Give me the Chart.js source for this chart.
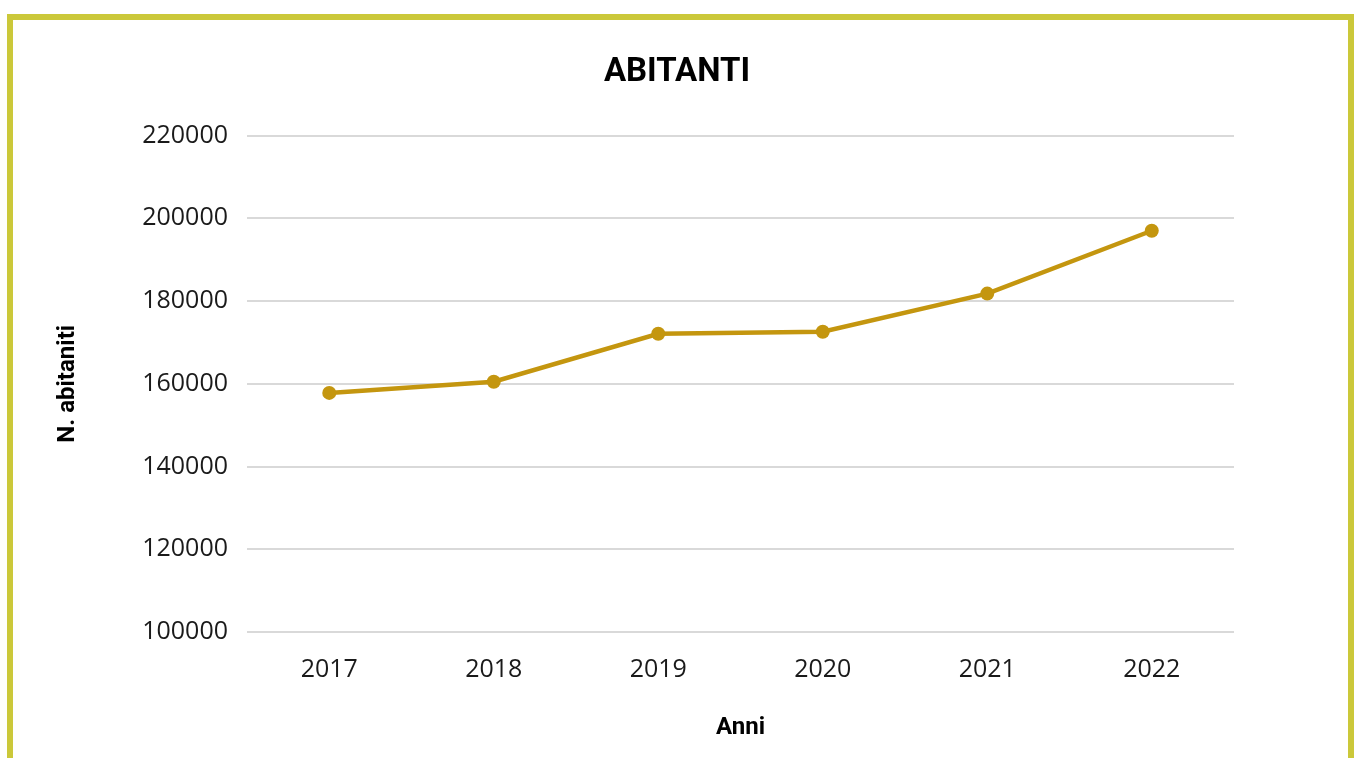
<!DOCTYPE html>
<html>
<head>
<meta charset="utf-8">
<script src="https://cdn.jsdelivr.net/npm/chart.js@4"></script>
<style>
  html, body { margin: 0; padding: 0; background: #ffffff; overflow: hidden; }
  #wrap { position: relative; width: 1354px; height: 758px; }
  #frame { position: absolute; left: 7px; top: 14px; width: 1347px; height: 800px;
           box-sizing: border-box; border: 6px solid #cbc83a; pointer-events: none; }
  canvas { position: absolute; left: 0; top: 0; }
</style>
</head>
<body>
<div id="wrap">
  <canvas id="c" width="1354" height="758"></canvas>
  <div id="frame"></div>
</div>
<script>
const chartTitle = "ABITANTI";
const xTitle = "Anni";
const yTitle = "N. abitaniti";
const years = ["2017", "2018", "2019", "2020", "2021", "2022"];
const inhabitants = [157800, 160500, 172100, 172600, 181800, 197000];
const yMin = 100000, yMax = 220000, yStep = 20000;

const lineColor = "#c4960f";

new Chart(document.getElementById("c"), {
  type: "line",
  data: {
    labels: years,
    datasets: [{
      label: chartTitle,
      data: inhabitants,
      borderColor: lineColor,
      backgroundColor: lineColor,
      borderWidth: 4.5,
      pointRadius: 7,
      pointHoverRadius: 7,
      pointBorderWidth: 0,
      tension: 0,
      fill: false
    }]
  },
  options: {
    responsive: false,
    animation: false,
    devicePixelRatio: 1,
    layout: { padding: 0 },
    plugins: {
      legend: { display: false },
      tooltip: { enabled: false },
      title: {
        display: true,
        text: chartTitle,
        color: "#000000",
        font: { family: "Roboto", size: 33, weight: "bold", lineHeight: 1.2 },
        padding: { top: 53, bottom: 43 }
      }
    },
    scales: {
      x: {
        offset: true,
        grid: { display: false, drawTicks: false },
        border: { display: false },
        ticks: { color: "#1a1a1a", font: { family: "Open Sans", size: 25 }, padding: 23 },
        title: {
          display: true, text: xTitle, color: "#000000",
          font: { family: "Roboto", size: 24, weight: "bold", lineHeight: 1.2 },
          padding: { top: 0, bottom: 16 }
        },
        afterFit: (s) => { s.height = 126; }
      },
      y: {
        position: "left",
        min: yMin, max: yMax,
        grid: { color: "#d9d9d9", lineWidth: 2, drawTicks: false },
        border: { display: false },
        ticks: { stepSize: yStep, color: "#1a1a1a", font: { family: "Open Sans", size: 25 }, padding: 19,
                 callback: (v) => String(v) },
        title: {
          display: true, text: yTitle, color: "#000000",
          font: { family: "Roboto", size: 24, weight: "bold", lineHeight: 1.2 },
          padding: { top: 54, bottom: 0 }
        },
        afterFit: (s) => { s.width = 247; }
      },
      yRight: {
        position: "right",
        display: true,
        grid: { display: false, drawTicks: false },
        border: { display: false },
        ticks: { display: false },
        afterFit: (s) => { s.width = 120; }
      }
    }
  }
});
</script>
</body>
</html>
